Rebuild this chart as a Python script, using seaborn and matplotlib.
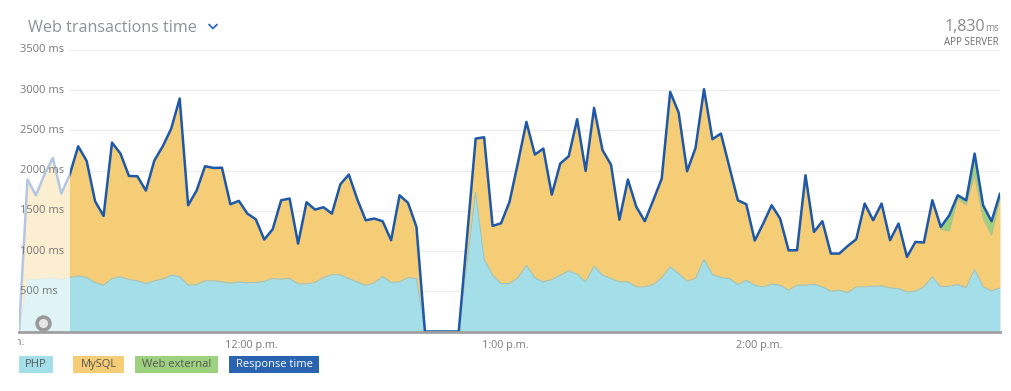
import numpy as np
import pandas as pd
import matplotlib
matplotlib.use("Agg")
import matplotlib.pyplot as plt
from matplotlib.patches import Rectangle
from matplotlib.lines import Line2D
from matplotlib.transforms import Bbox
import seaborn as sns

# ---------------- data ----------------
times = pd.date_range("2024-01-01 11:05", periods=117, freq="2min")

php = [0, 645, 645, 658, 670, 645, 670, 690, 670, 608,
       575, 658, 678, 645, 629, 595, 629, 650, 700, 682,
       575, 583, 629, 630, 616, 600, 616, 604, 608, 624,
       658, 650, 658, 591, 591, 608, 670, 707, 703, 658,
       616, 571, 604, 682, 608, 616, 668, 658, 0, 0,
       0, 0, 0, 870, 1727, 898, 699, 595, 595, 666,
       819, 666, 616, 645, 699, 753, 712, 616, 811, 700,
       658, 616, 616, 554, 554, 583, 666, 802, 720, 624,
       658, 894, 707, 670, 658, 583, 636, 575, 554, 587,
       575, 512, 575, 575, 587, 554, 500, 512, 483, 554,
       554, 562, 566, 541, 533, 491, 500, 554, 678, 554,
       562, 583, 545, 770, 554, 504, 541]

mysql = [0, 1244, 1049, 1292, 1488, 1070, 1281, 1613, 1451, 1011,
         862, 1691, 1534, 1289, 1301, 1157, 1496, 1653, 1823, 2214,
         995, 1169, 1426, 1404, 1420, 982, 1008, 862, 788, 519,
         614, 982, 995, 502, 1016, 908, 875, 759, 1128, 1293,
         1028, 812, 800, 689, 527, 1078, 932, 642, 0, 0,
         0, 0, 0, 330, 672, 1517, 614, 751, 1016, 1434,
         1787, 1534, 1658, 1057, 1389, 1426, 1927, 1381, 1969, 1554,
         1417, 774, 1273, 995, 817, 1049, 1235, 2177, 2002, 1369,
         1625, 2119, 1684, 1791, 1388, 1049, 946, 555, 788, 983,
         829, 498, 435, 1368, 651, 817, 469, 457, 581, 593,
         1037, 821, 1025, 594, 809, 436, 614, 552, 954, 716,
         688, 1070, 1025, 1172, 850, 693, 1112]

web_external = [0] * 109 + [30, 194, 41, 62, 270, 166, 174, 62]

tick_times = ["2024-01-01 12:00", "2024-01-01 13:00", "2024-01-01 14:00"]
tick_labels = ["12:00 p.m.", "1:00 p.m.", "2:00 p.m."]
prev_tick_label = "11:00 a.m."
y_ticks = [500, 1000, 1500, 2000, 2500, 3000, 3500]
y_tick_labels = ["500 ms", "1000 ms", "1500 ms", "2000 ms", "2500 ms", "3000 ms", "3500 ms"]
legend_labels = ["PHP", "MySQL", "Web external", "Response time"]
summary_value = "1,830"
summary_unit = "ms"
summary_label = "APP SERVER"
title = "Web transactions time"
partial_points = 6  # leading points that are shown faded

# ---------------- style ----------------
C_PHP = "#a4dfe9"
C_MYSQL = "#f4cd76"
C_WEB = "#9dd17f"
C_RESP = "#1f58a8"

sns.set_theme(style="white")
plt.rcParams["font.family"] = ["Open Sans", "DejaVu Sans"]

W, H = 1012, 391
fig = plt.figure(figsize=(W / 100, H / 100), dpi=100)
ax_left, ax_right, ax_top, ax_bottom = 19, 1000, 50, 331.5
ax = fig.add_axes([ax_left / W, (H - ax_bottom) / H,
                   (ax_right - ax_left) / W, (ax_bottom - ax_top) / H])

php_a = np.array(php, float)
mysql_a = np.array(mysql, float)
web_a = np.array(web_external, float)
top_mysql = php_a + mysql_a
response = top_mysql + web_a

df = pd.DataFrame({"time": times, "response": response})

# gridlines (under the areas), starting after the labels
for v in y_ticks:
    ax.plot([0.05, 1.0], [v, v], transform=ax.get_yaxis_transform(),
            color="#ececec", lw=1, zorder=0.5, solid_capstyle="butt")

ax.fill_between(times, 0, php_a, color=C_PHP, lw=0, zorder=1)
ax.fill_between(times, php_a, top_mysql, color=C_MYSQL, lw=0, zorder=1)
ax.fill_between(times, top_mysql, response, color=C_WEB, lw=0, zorder=1)
ax.plot(times, php_a, color="#9cc6c4", lw=0.9, zorder=1.5)
ax.plot(times, top_mysql, color="#b9b98a", lw=0.7, zorder=1.5)
sns.lineplot(data=df, x="time", y="response", ax=ax, color=C_RESP, lw=1.8,
             zorder=2)

# faded partial-data region
ax.axvspan(times[0], times[partial_points], color="white", alpha=0.67, lw=0,
           zorder=3)
# drag handle
ax.scatter([0.024], [0.03], transform=ax.transAxes, s=85, marker="o",
           facecolor="#e6e6e6", edgecolor="#9a9a9a", linewidth=2.6, zorder=4)

ax.set_xlim(times[0], times[-1])
ax.set_ylim(0, 3500)
ax.set_xlabel("")
ax.set_ylabel("")

ax.set_yticks(y_ticks)
ax.set_yticklabels(y_tick_labels)
ax.tick_params(axis="y", length=0, pad=-1, labelsize=8, labelcolor="#7a7a7a")
for lbl in ax.get_yticklabels():
    lbl.set_horizontalalignment("left")
    lbl.set_verticalalignment("center")

ax.set_xticks(pd.to_datetime(tick_times))
ax.set_xticklabels(tick_labels)
ax.tick_params(axis="x", length=3, width=1, color="#a0a0a0", pad=3,
               labelsize=7.8, labelcolor="#7a7a7a")

for s in ["left", "top", "right"]:
    ax.spines[s].set_visible(False)
ax.spines["bottom"].set_color("#a0a0a0")
ax.spines["bottom"].set_linewidth(2)
ax.spines["bottom"].set_zorder(5)
ax.yaxis.set_zorder(6)
ax.xaxis.set_zorder(6)
ax.grid(False)

# previous-hour label, mostly hidden to the left of the chart
prev = fig.text(24 / W, 1 - 345 / H, prev_tick_label, ha="right", va="baseline",
                fontsize=7.8, color="#7a7a7a")
prev.set_clip_box(Bbox.from_extents(18, 0, 40, H))
prev.set_clip_on(True)

# title + chevron
fig.text(28 / W, 1 - 32 / H, title, ha="left", va="baseline",
         fontsize=11.6, color="#8c9299")
fig.add_artist(Line2D([209 / W, 213 / W, 217 / W],
                      [1 - 24.5 / H, 1 - 28.5 / H, 1 - 24.5 / H],
                      color="#2f6db5", lw=1.3, solid_capstyle="round"))

# summary top-right
fig.text(985 / W, 1 - 31 / H, summary_value, ha="right", va="baseline",
         fontsize=11.5, color="#8a8a8a")
fig.text(999 / W, 1 - 31 / H, summary_unit, ha="right", va="baseline",
         fontsize=7, color="#8a8a8a")
fig.text(999 / W, 1 - 45 / H, summary_label, ha="right", va="baseline",
         fontsize=7, color="#6a6a6a")

# legend boxes
boxes = [(19, 53, C_PHP, "#555555"), (73, 124, C_MYSQL, "#555555"),
         (135, 218, C_WEB, "#555555"), (229, 319, "#2a63b0", "white")]
for (x0, x1, fc, tc), lab in zip(boxes, legend_labels):
    y0, y1 = 356, 373
    fig.add_artist(Rectangle((x0 / W, 1 - y1 / H), (x1 - x0) / W, (y1 - y0) / H,
                             transform=fig.transFigure, facecolor=fc,
                             edgecolor="none"))
    fig.text((x0 + x1) / 2 / W, 1 - (y0 + y1) / 2 / H, lab, ha="center",
             va="center", fontsize=8, color=tc)

fig.savefig("out.png", dpi=100, facecolor="white")
